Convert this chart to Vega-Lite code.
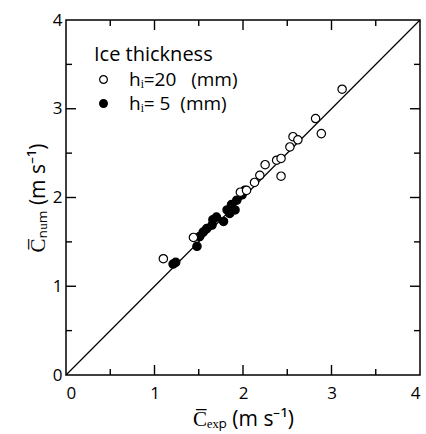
{
  "$schema": "https://vega.github.io/schema/vega-lite/v6.json",
  "width": 354,
  "height": 355,
  "autosize": {"type": "none"},
  "padding": {"left": 66, "top": 20, "right": 6, "bottom": 59},
  "config": {
    "font": "Open Sans",
    "view": {"stroke": "black", "strokeWidth": 1.5},
    "axis": {
      "grid": false,
      "domain": false,
      "ticks": false,
      "labelColor": "black",
      "titleColor": "black",
      "labelFontSize": 17,
      "titleFontSize": 21,
      "titleFontWeight": "normal",
      "labelFont": "Open Sans",
      "titleFont": "Open Sans"
    }
  },
  "datasets": {
    "pts": [
      {"g": "h20", "x": 1.10, "y": 1.31},
      {"g": "h20", "x": 1.44, "y": 1.55},
      {"g": "h20", "x": 1.97, "y": 2.06},
      {"g": "h20", "x": 2.04, "y": 2.08},
      {"g": "h20", "x": 2.13, "y": 2.17},
      {"g": "h20", "x": 2.19, "y": 2.25},
      {"g": "h20", "x": 2.25, "y": 2.37},
      {"g": "h20", "x": 2.38, "y": 2.42},
      {"g": "h20", "x": 2.43, "y": 2.44},
      {"g": "h20", "x": 2.43, "y": 2.24},
      {"g": "h20", "x": 2.53, "y": 2.57},
      {"g": "h20", "x": 2.565, "y": 2.685},
      {"g": "h20", "x": 2.62, "y": 2.65},
      {"g": "h20", "x": 2.82, "y": 2.89},
      {"g": "h20", "x": 2.885, "y": 2.72},
      {"g": "h20", "x": 3.12, "y": 3.22},
      {"g": "h5", "x": 1.21, "y": 1.25},
      {"g": "h5", "x": 1.24, "y": 1.27},
      {"g": "h5", "x": 1.48, "y": 1.45},
      {"g": "h5", "x": 1.51, "y": 1.56},
      {"g": "h5", "x": 1.55, "y": 1.61},
      {"g": "h5", "x": 1.59, "y": 1.65},
      {"g": "h5", "x": 1.65, "y": 1.69},
      {"g": "h5", "x": 1.66, "y": 1.75},
      {"g": "h5", "x": 1.70, "y": 1.78},
      {"g": "h5", "x": 1.78, "y": 1.73},
      {"g": "h5", "x": 1.82, "y": 1.86},
      {"g": "h5", "x": 1.85, "y": 1.82},
      {"g": "h5", "x": 1.87, "y": 1.92},
      {"g": "h5", "x": 1.91, "y": 1.86},
      {"g": "h5", "x": 1.93, "y": 1.97},
      {"g": "h5", "x": 1.99, "y": 2.03},
      {"g": "h5", "x": 2.02, "y": 2.08}
    ],
    "diag": [
      {"x": 0, "y": 0},
      {"x": 4, "y": 4}
    ],
    "major": [{"v": 1}, {"v": 2}, {"v": 3}],
    "minor": [{"v": 0.5}, {"v": 1.5}, {"v": 2.5}, {"v": 3.5}]
  },
  "resolve": {"axis": {"x": "independent", "y": "independent"}},
  "layer": [
    {
      "data": {"name": "diag"},
      "mark": {"type": "line", "color": "black", "strokeWidth": 1.2},
      "encoding": {
        "x": {"field": "x", "type": "quantitative", "scale": {"domain": [0, 4], "nice": false}, "axis": null},
        "y": {"field": "y", "type": "quantitative", "scale": {"domain": [0, 4], "nice": false}, "axis": null}
      }
    },
    {
      "data": {"name": "major"},
      "mark": {"type": "point", "shape": "M0,0L0,-1", "size": 400, "stroke": "black", "strokeWidth": 1.4, "fill": null, "filled": false, "opacity": 1},
      "encoding": {
        "x": {"field": "v", "type": "quantitative", "axis": null},
        "y": {"datum": 0, "type": "quantitative", "axis": null}
      }
    },
    {
      "data": {"name": "minor"},
      "mark": {"type": "point", "shape": "M0,0L0,-1", "size": 144, "stroke": "black", "strokeWidth": 1.4, "fill": null, "filled": false, "opacity": 1},
      "encoding": {
        "x": {"field": "v", "type": "quantitative", "axis": null},
        "y": {"datum": 0, "type": "quantitative", "axis": null}
      }
    },
    {
      "data": {"name": "major"},
      "mark": {"type": "point", "shape": "M0,0L0,1", "size": 400, "stroke": "black", "strokeWidth": 1.4, "fill": null, "filled": false, "opacity": 1},
      "encoding": {
        "x": {"field": "v", "type": "quantitative", "axis": null},
        "y": {"datum": 4, "type": "quantitative", "axis": null}
      }
    },
    {
      "data": {"name": "minor"},
      "mark": {"type": "point", "shape": "M0,0L0,1", "size": 144, "stroke": "black", "strokeWidth": 1.4, "fill": null, "filled": false, "opacity": 1},
      "encoding": {
        "x": {"field": "v", "type": "quantitative", "axis": null},
        "y": {"datum": 4, "type": "quantitative", "axis": null}
      }
    },
    {
      "data": {"name": "major"},
      "mark": {"type": "point", "shape": "M0,0L1,0", "size": 400, "stroke": "black", "strokeWidth": 1.4, "fill": null, "filled": false, "opacity": 1},
      "encoding": {
        "y": {"field": "v", "type": "quantitative", "axis": null},
        "x": {"datum": 0, "type": "quantitative", "axis": null}
      }
    },
    {
      "data": {"name": "minor"},
      "mark": {"type": "point", "shape": "M0,0L1,0", "size": 144, "stroke": "black", "strokeWidth": 1.4, "fill": null, "filled": false, "opacity": 1},
      "encoding": {
        "y": {"field": "v", "type": "quantitative", "axis": null},
        "x": {"datum": 0, "type": "quantitative", "axis": null}
      }
    },
    {
      "data": {"name": "major"},
      "mark": {"type": "point", "shape": "M0,0L-1,0", "size": 400, "stroke": "black", "strokeWidth": 1.4, "fill": null, "filled": false, "opacity": 1},
      "encoding": {
        "y": {"field": "v", "type": "quantitative", "axis": null},
        "x": {"datum": 4, "type": "quantitative", "axis": null}
      }
    },
    {
      "data": {"name": "minor"},
      "mark": {"type": "point", "shape": "M0,0L-1,0", "size": 144, "stroke": "black", "strokeWidth": 1.4, "fill": null, "filled": false, "opacity": 1},
      "encoding": {
        "y": {"field": "v", "type": "quantitative", "axis": null},
        "x": {"datum": 4, "type": "quantitative", "axis": null}
      }
    },
    {
      "data": {"name": "pts"},
      "mark": {"type": "point", "shape": "circle", "stroke": "black", "strokeWidth": 1.2, "opacity": 1, "size": 70},
      "encoding": {
        "x": {
          "field": "x", "type": "quantitative",
          "scale": {"domain": [0, 4], "nice": false},
          "axis": {
            "orient": "bottom",
            "values": [0, 1, 2, 3, 4],
            "format": "d",
            "labelPadding": 10,
            "title": "C̅ₑₓₚ (m s⁻¹)",
            "titlePadding": 7
          }
        },
        "y": {
          "field": "y", "type": "quantitative",
          "scale": {"domain": [0, 4], "nice": false},
          "axis": {
            "orient": "left",
            "values": [0, 1, 2, 3, 4],
            "format": "d",
            "labelPadding": 4,
            "title": "C̅ₙᵤₘ (m s⁻¹)",
            "titlePadding": 4
          }
        },
        "fill": {
          "field": "g", "type": "nominal",
          "scale": {"domain": ["h20", "h5"], "range": ["white", "black"]},
          "legend": {
            "title": "Ice thickness",
            "orient": "none",
            "legendX": 28,
            "legendY": 25,
            "titleFontSize": 20,
            "titleFontWeight": "normal",
            "titleColor": "black",
            "titlePadding": 5,
            "labelFontSize": 19,
            "labelColor": "black",
            "symbolStrokeColor": "black",
            "symbolStrokeWidth": 1.2,
            "symbolSize": 60,
            "symbolType": "circle",
            "rowPadding": 4,
            "labelOffset": 16,
            "labelExpr": "datum.value === 'h20' ? 'hᵢ=20\u00a0\u00a0\u00a0(mm)' : 'hᵢ=\u00a05\u00a0\u00a0(mm)'"
          }
        },
        "order": {"field": "g", "sort": "descending"}
      }
    }
  ]
}
